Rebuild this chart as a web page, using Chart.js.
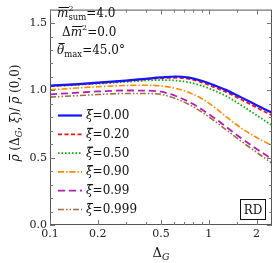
<!DOCTYPE html>
<html>
<head>
<meta charset="utf-8">
<script src="https://cdn.jsdelivr.net/npm/chart.js@4.4.0/dist/chart.umd.min.js"></script>
<style>
    html, body { margin: 0; padding: 0; background: #fff; }
    canvas { display: block; }
</style>
</head>
<body>
<canvas id="myChart" width="273" height="263"></canvas>
<script>
const deltaG = [0.1, 0.15, 0.2, 0.3, 0.4, 0.5, 0.62, 0.75, 0.9, 1.1, 1.3, 1.6, 2.0, 2.5];

// rho(Delta_G, xi) / rho(0,0) for each xi
const rhoXi000 = [1.035, 1.047, 1.057, 1.073, 1.086, 1.096, 1.103, 1.095, 1.072, 1.035, 1.0, 0.948, 0.89, 0.835];
const rhoXi020 = [1.032, 1.044, 1.054, 1.07, 1.082, 1.09, 1.094, 1.085, 1.06, 1.02, 0.985, 0.932, 0.872, 0.815];
const rhoXi050 = [1.03, 1.041, 1.05, 1.063, 1.073, 1.077, 1.073, 1.06, 1.035, 0.995, 0.955, 0.89, 0.815, 0.74];
const rhoXi090 = [1.005, 1.018, 1.027, 1.036, 1.038, 1.033, 1.015, 0.985, 0.94, 0.87, 0.8, 0.72, 0.65, 0.59];
const rhoXi099 = [0.97, 0.983, 0.992, 0.999, 0.998, 0.99, 0.958, 0.915, 0.86, 0.79, 0.725, 0.645, 0.565, 0.49];
const rhoXi0999 = [0.95, 0.961, 0.969, 0.977, 0.977, 0.97, 0.938, 0.895, 0.84, 0.768, 0.703, 0.622, 0.54, 0.458];

const xiLabels = ['0.00', '0.20', '0.50', '0.90', '0.99', '0.999'];

const xMajorTicks = [0.1, 0.2, 0.5, 1, 2];
const xMinorTicks = [0.3, 0.4, 0.6, 0.7, 0.8, 0.9, 1.5];
const yMajorTicks = [0, 0.5, 1.0, 1.5];
const yMinorTicks = [0.1, 0.2, 0.3, 0.4, 0.6, 0.7, 0.8, 0.9, 1.1, 1.2, 1.3, 1.4];

const SERIF = '"DejaVu Serif", "Liberation Serif", serif';

const seriesValues = [rhoXi000, rhoXi020, rhoXi050, rhoXi090, rhoXi099, rhoXi0999];
const seriesStyle = [
    { color: 'rgb(20,20,255)', width: 2.2, dash: [] },
    { color: 'rgb(255,10,10)', width: 1.8, dash: [4, 2.5] },
    { color: 'rgb(0,175,0)', width: 1.8, dash: [1.5, 2] },
    { color: 'rgb(255,140,0)', width: 1.6, dash: [6, 2, 1.5, 2] },
    { color: 'rgb(180,30,180)', width: 1.8, dash: [7, 4] },
    { color: 'rgb(160,110,60)', width: 1.6, dash: [6, 2, 1.5, 2, 1.5, 2] },
];

let datasets = [];
for (let i = 0; i < seriesValues.length; i++) {
    let data = [];
    for (let j = 0; j < deltaG.length; j++) {
        data.push({ x: deltaG[j], y: seriesValues[i][j] });
    }
    datasets.push({
        label: xiLabels[i],
        data: data,
        borderColor: seriesStyle[i].color,
        borderWidth: seriesStyle[i].width,
        borderDash: seriesStyle[i].dash,
        pointRadius: 0,
        fill: false,
        cubicInterpolationMode: 'monotone',
    });
}

// text with pieces in different sizes / italic / offsets
function drawRich(ctx, x, y, parts, measureOnly) {
    let x0 = x;
    for (let p of parts) {
        ctx.font = (p.italic ? 'italic ' : '') + (p.size || 12) + 'px ' + SERIF;
        let w = ctx.measureText(p.t).width;
        if (!measureOnly) {
            ctx.fillText(p.t, x, y + (p.dy || 0));
            if (p.bar) {
                ctx.fillRect(x + 1.5, y - p.bar, w - 1, 1);
            }
        }
        x += (p.adv !== undefined) ? p.adv : w;
    }
    return x - x0;
}

const decorPlugin = {
    id: 'decor',
    afterDraw(chart) {
        const ctx = chart.ctx;
        const area = chart.chartArea;
        const xs = chart.scales.x;
        const ys = chart.scales.y;
        ctx.save();

        // frame
        ctx.strokeStyle = '#555';
        ctx.lineWidth = 1;
        ctx.strokeRect(area.left + 0.5, area.top + 0.5, area.right - area.left - 1, area.bottom - area.top - 1);

        // inward ticks on all sides
        ctx.strokeStyle = '#777';
        ctx.beginPath();
        const xTick = (v, len) => {
            let px = Math.round(xs.getPixelForValue(v)) + 0.5;
            ctx.moveTo(px, area.bottom); ctx.lineTo(px, area.bottom - len);
            ctx.moveTo(px, area.top); ctx.lineTo(px, area.top + len);
        };
        const yTick = (v, len) => {
            let py = Math.round(ys.getPixelForValue(v)) + 0.5;
            ctx.moveTo(area.left, py); ctx.lineTo(area.left + len, py);
            ctx.moveTo(area.right, py); ctx.lineTo(area.right - len, py);
        };
        xMajorTicks.forEach(v => xTick(v, 5));
        xMinorTicks.forEach(v => xTick(v, 3));
        yMajorTicks.forEach(v => yTick(v, 5));
        yMinorTicks.forEach(v => yTick(v, 3));
        ctx.stroke();

        ctx.fillStyle = '#111';
        ctx.strokeStyle = '#111';
        ctx.textBaseline = 'alphabetic';
        ctx.textAlign = 'left';

        // parameters in the upper left
        drawRich(ctx, 57, 17, [
            { t: 'm', italic: true, bar: 10 },
            { t: '2', size: 8, dy: -6, adv: 0 },
            { t: 'sum', size: 8.5, dy: 3 },
            { t: '=4.0' },
        ]);
        drawRich(ctx, 62, 36, [
            { t: 'Δ' },
            { t: 'm', italic: true, bar: 10 },
            { t: '2', size: 8, dy: -6 },
            { t: '=0.0' },
        ]);
        drawRich(ctx, 57, 54, [
            { t: 'θ', italic: true, bar: 11 },
            { t: 'max', size: 8.5, dy: 3 },
            { t: '=45.0°' },
        ]);

        // legend
        for (let i = 0; i < chart.data.datasets.length; i++) {
            let ds = chart.data.datasets[i];
            let cy = 115 + i * 18.8;
            ctx.save();
            ctx.strokeStyle = ds.borderColor;
            ctx.lineWidth = ds.borderWidth;
            ctx.setLineDash(ds.borderDash);
            ctx.beginPath();
            ctx.moveTo(58, cy + 0.5);
            ctx.lineTo(82, cy + 0.5);
            ctx.stroke();
            ctx.restore();
            drawRich(ctx, 86, cy + 4, [
                { t: 'ξ', italic: true, bar: 10 },
                { t: '=' + ds.label },
            ]);
        }

        // RD box
        ctx.lineWidth = 1;
        ctx.strokeRect(240.5, 199.5, 25, 20);
        ctx.font = '12px ' + SERIF;
        ctx.textAlign = 'center';
        ctx.fillText('RD', 253, 214);
        ctx.textAlign = 'left';

        // x axis title
        const xTitle = [
            { t: 'Δ', size: 13 },
            { t: 'G', italic: true, size: 9.5, dy: 3 },
        ];
        let w = drawRich(ctx, 0, 0, xTitle, true);
        drawRich(ctx, 161 - w / 2, 257, xTitle);

        // y axis title, rotated
        const yTitle = [
            { t: 'ρ', italic: true, bar: 10 },
            { t: ' (Δ' },
            { t: 'G', italic: true, size: 8.5, dy: 3 },
            { t: ', ' },
            { t: 'ξ', italic: true, bar: 10 },
            { t: ')/ ' },
            { t: 'ρ', italic: true, bar: 10 },
            { t: ' (0,0)' },
        ];
        w = drawRich(ctx, 0, 0, yTitle, true);
        ctx.translate(19, 113);
        ctx.rotate(-Math.PI / 2);
        drawRich(ctx, -w / 2, 0, yTitle);

        ctx.restore();
    }
};

const options = {
    responsive: false,
    animation: false,
    devicePixelRatio: 1,
    layout: { padding: { top: 2, right: 1, left: 0, bottom: 0 } },
    plugins: {
        legend: { display: false },
        tooltip: { enabled: false },
    },
    scales: {
        x: {
            type: 'logarithmic',
            min: 0.1,
            max: 2.5,
            grid: { display: false, drawTicks: false },
            border: { display: false },
            afterBuildTicks: (scale) => {
                scale.ticks = xMajorTicks.map(v => ({ value: v }));
            },
            afterFit: (scale) => { scale.height = 38; },
            ticks: {
                autoSkip: false,
                maxRotation: 0,
                padding: 3,
                color: '#222',
                font: { family: SERIF, size: 11 },
                callback: (v) => String(v),
            },
        },
        y: {
            min: 0,
            max: 1.6,
            grid: { display: false, drawTicks: false },
            border: { display: false },
            afterBuildTicks: (scale) => {
                scale.ticks = yMajorTicks.map(v => ({ value: v }));
            },
            afterFit: (scale) => { scale.width = 50; },
            ticks: {
                padding: 3,
                color: '#222',
                font: { family: SERIF, size: 11 },
                callback: (v) => Number(v).toFixed(1),
            },
        },
    },
};

const ctx = document.getElementById('myChart').getContext('2d');
const chart = new Chart(ctx, {
    type: 'line',
    data: { datasets: datasets },
    options: options,
    plugins: [decorPlugin],
});
</script>
</body>
</html>
